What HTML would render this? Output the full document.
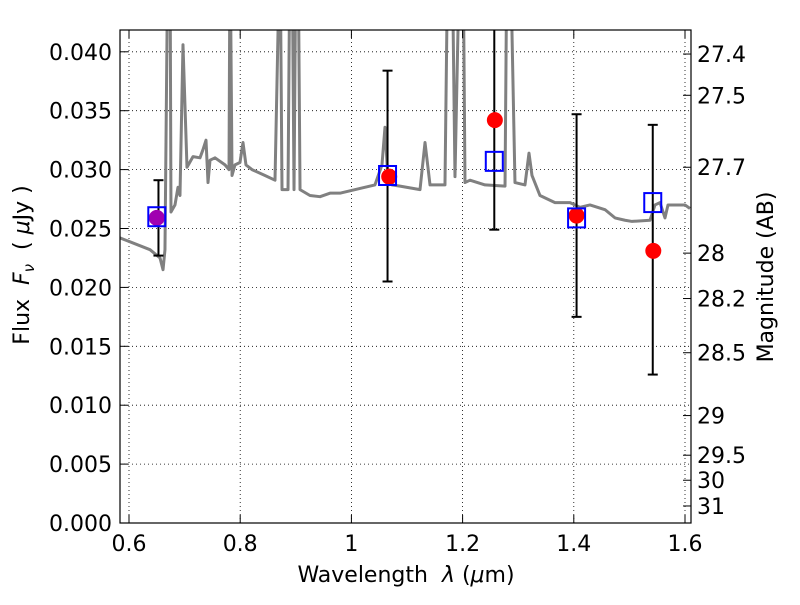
<!DOCTYPE html>
<html><head><meta charset="utf-8"><style>
body{margin:0;background:#fff}
svg text{font-family:"DejaVu Sans","Liberation Sans",sans-serif;fill:#000;white-space:pre}
</style></head><body>
<svg id="c" width="800" height="600" xmlns="http://www.w3.org/2000/svg">
<defs><clipPath id="clip"><rect x="120" y="30" width="571" height="493"/></clipPath></defs>
<rect x="0" y="0" width="800" height="600" fill="#fff"/>
<g id="grid"></g>
<g id="spec" clip-path="url(#clip)"></g>
<g id="marks" clip-path="url(#clip)"></g>
<rect x="120" y="30" width="571" height="493" fill="none" stroke="#000" stroke-width="1.2"/>
<g id="axes"></g>
<text x="406" y="582" font-size="22" text-anchor="middle">Wavelength  <tspan font-style="italic">λ</tspan> (<tspan font-style="italic">μ</tspan>m)</text>
<text transform="translate(29,265) rotate(-90)" font-size="22" text-anchor="middle">Flux  <tspan font-style="italic">F</tspan><tspan font-style="italic" font-size="15" dy="5">ν</tspan><tspan dy="-5">  ( </tspan><tspan font-style="italic">μ</tspan>Jy )</text>
<text transform="translate(773,277) rotate(-90)" font-size="22" text-anchor="middle">Magnitude (AB)</text>
</svg>
<script>
const specWave=[0.5838,0.6378,0.6558,0.6612,0.6647,0.6701,0.6737,0.6755,0.6827,0.6881,0.6917,0.6971,0.7043,0.7151,0.7277,0.7331,0.7385,0.7421,0.7457,0.7547,0.7727,0.7799,0.7817,0.7853,0.7906,0.7996,0.8050,0.8104,0.8212,0.8446,0.8626,0.8716,0.8752,0.8860,0.8896,0.8932,0.8968,0.9004,0.9040,0.9076,0.9255,0.9435,0.9615,0.9795,1.0155,1.0424,1.0550,1.0604,1.0658,1.0730,1.0874,1.1234,1.1324,1.1414,1.1683,1.1737,1.1809,1.1863,1.1953,1.2007,1.2043,1.2133,1.2403,1.2763,1.2799,1.2853,1.2942,1.3122,1.3194,1.3248,1.3392,1.3662,1.3932,1.4112,1.4291,1.4561,1.4741,1.4921,1.5047,1.5371,1.5460,1.5550,1.5640,1.5694,1.6000,1.6090];
const specFlux=[0.0242,0.0232,0.0225,0.0215,0.0232,0.05,0.05,0.0264,0.0270,0.0285,0.0278,0.0406,0.0302,0.0311,0.0310,0.0317,0.0325,0.0289,0.0308,0.0310,0.0304,0.0300,0.05,0.0295,0.0304,0.0306,0.0323,0.0304,0.0300,0.0295,0.0291,0.05,0.0283,0.0283,0.05,0.05,0.0283,0.05,0.05,0.0283,0.0278,0.0277,0.0280,0.0280,0.0284,0.0287,0.0304,0.0336,0.0291,0.0287,0.0286,0.0283,0.0323,0.0287,0.0287,0.05,0.05,0.0294,0.05,0.05,0.0289,0.0291,0.0287,0.0286,0.05,0.05,0.0289,0.0287,0.0314,0.0295,0.0278,0.0272,0.0272,0.0268,0.0270,0.0266,0.0259,0.0257,0.0256,0.0257,0.0270,0.0272,0.0259,0.0270,0.0270,0.0267];
const bandWave=[0.650,1.065,1.257,1.405,1.542];
const modelFlux=[0.0260,0.0295,0.0307,0.0259,0.0272];
const obsWave=[0.650,1.068,1.258,1.405,1.543];
const obsFlux=[0.0259,0.0294,0.0342,0.0261,0.0231];
const obsColor=["#a000b0","red","red","red","red"];
const errWave=[0.653,1.065,1.257,1.405,1.542];
const errLow=[0.0227,0.0205,0.0249,0.0175,0.0126];
const errHigh=[0.0291,0.0384,0.0430,0.0347,0.0338];
const xTicks=[0.6,0.8,1,1.2,1.4,1.6];
const xTickLabels=["0.6","0.8","1","1.2","1.4","1.6"];
const yTicks=[0,0.005,0.010,0.015,0.020,0.025,0.030,0.035,0.040];
const magTicks=[27.4,27.5,27.7,28,28.2,28.5,29,29.5,30,31];

const NS="http://www.w3.org/2000/svg";
const X=v=>129+(v-0.6)*556;
const Y=v=>523-v*11780;
const MY=m=>Y(Math.pow(10,(23.9-m)/2.5));
function mk(tag,parent,attrs){const e=document.createElementNS(NS,tag);for(const k in attrs)e.setAttribute(k,attrs[k]);document.getElementById(parent).appendChild(e);return e;}

xTicks.forEach((t,i)=>{
  const g=mk('line','grid',{x1:X(t),x2:X(t),y1:30,y2:523,stroke:'#000','stroke-width':0.8,'stroke-dasharray':'1,3'});
  
  
  mk('line','axes',{x1:X(t),x2:X(t),y1:523,y2:515,stroke:'#000'});
  mk('line','axes',{x1:X(t),x2:X(t),y1:30,y2:38,stroke:'#000'});
  const tx=mk('text','axes',{x:X(t),y:551,'font-size':22,'text-anchor':'middle'});
  tx.textContent=xTickLabels[i];
  
  
});
yTicks.forEach(t=>{
  const g=mk('line','grid',{x1:120,x2:691,y1:Y(t),y2:Y(t),stroke:'#000','stroke-width':0.8,'stroke-dasharray':'1,3'});
  
  
  mk('line','axes',{x1:120,x2:128,y1:Y(t),y2:Y(t),stroke:'#000'});
  const tx=mk('text','axes',{x:112,y:Y(t)+8,'font-size':22,'text-anchor':'end'});
  tx.textContent=t.toFixed(3);
  
  
});
magTicks.forEach(m=>{
  const y=MY(m);
  mk('line','axes',{x1:691,x2:683,y1:y,y2:y,stroke:'#000'});
  const tx=mk('text','axes',{x:697,y:y+8,'font-size':22});
  tx.textContent=String(m);
  
  
});
const sp=mk('polyline','spec',{points:specWave.map((w,i)=>X(w)+','+Y(specFlux[i])).join(' '),fill:'none',stroke:'#808080','stroke-width':3,'stroke-linejoin':'round'});


errWave.forEach((w,i)=>{
  const x=X(w);
  const l=mk('line','marks',{x1:x,x2:x,y1:Y(errLow[i]),y2:Y(errHigh[i]),stroke:'#000','stroke-width':2});
  
  
  mk('line','marks',{x1:x-5,x2:x+5,y1:Y(errLow[i]),y2:Y(errLow[i]),stroke:'#000','stroke-width':2});
  mk('line','marks',{x1:x-5,x2:x+5,y1:Y(errHigh[i]),y2:Y(errHigh[i]),stroke:'#000','stroke-width':2});
});
obsWave.forEach((w,i)=>{
  const c=mk('circle','marks',{cx:X(w),cy:Y(obsFlux[i]),r:8,fill:obsColor[i]});
  
  
});
bandWave.forEach((w,i)=>{
  const r=mk('rect','marks',{x:X(w)-8.5,y:Y(modelFlux[i])-9.5,width:17,height:19,fill:'none',stroke:'#0000ff','stroke-width':2});
  
  
});
</script>
</body></html>
